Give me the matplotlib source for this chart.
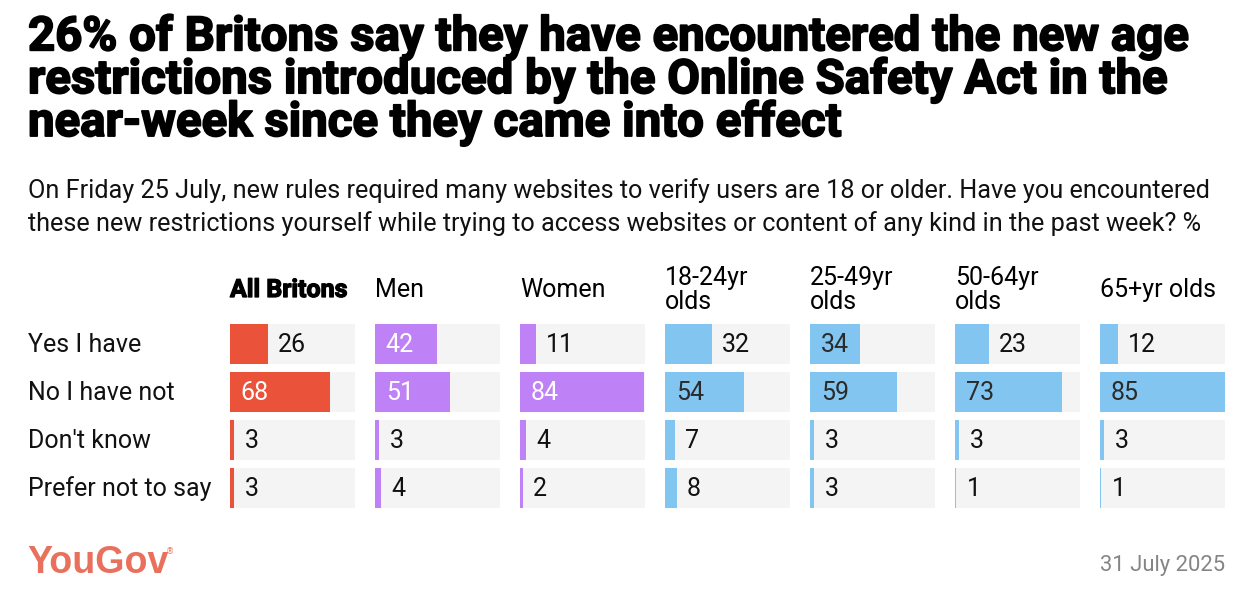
import matplotlib
matplotlib.use("Agg")
import matplotlib.pyplot as plt
import matplotlib.patheffects as pe

W, H = 1256, 608
DPI = 100

title = ("26% of Britons say they have encountered the new age\n"
         "restrictions introduced by the Online Safety Act in the\n"
         "near-week since they came into effect")
subtitle = ("On Friday 25 July, new rules required many websites to verify users are 18 or older. Have you encountered\n"
            "these new restrictions yourself while trying to access websites or content of any kind in the past week? %")

answers = ["Yes I have", "No I have not", "Don't know", "Prefer not to say"]
groups = ["All Britons", "Men", "Women", "18-24yr\nolds", "25-49yr\nolds", "50-64yr\nolds", "65+yr olds"]
all_britons = [26, 68, 3, 3]
men = [42, 51, 3, 4]
women = [11, 84, 4, 2]
age_18_24 = [32, 54, 7, 8]
age_25_49 = [34, 59, 3, 3]
age_50_64 = [23, 73, 3, 1]
age_65_plus = [12, 85, 3, 1]
series = [all_britons, men, women, age_18_24, age_25_49, age_50_64, age_65_plus]

RED = "#ea5239"
PURPLE = "#bf82f6"
BLUE = "#82c5f0"
colors = [RED, PURPLE, PURPLE, BLUE, BLUE, BLUE, BLUE]
inside_text = ["white", "white", "white", "#2b2b2b", "#2b2b2b", "#2b2b2b", "#2b2b2b"]
GRAY_BG = "#f4f4f4"

fig = plt.figure(figsize=(W / DPI, H / DPI), dpi=DPI)
fig.patch.set_facecolor("white")

def fx(px):
    return px / W

def fy(py):
    return 1 - py / H

# Title
fig.text(fx(28), fy(15), title, ha="left", va="top", fontsize=34.1, fontweight="bold",
         family="Roboto", linespacing=0.96, color="black",
         path_effects=[pe.withStroke(linewidth=1.3, foreground="black")])
# Subtitle
fig.text(fx(28), fy(178), subtitle, ha="left", va="top", fontsize=18.2,
         family="Roboto", linespacing=1.42, color="#111111")

panel_left0 = 230
pitch = 145
panel_w = 125
row_top0 = 324
row_h = 40
row_pitch = 48
n_rows = len(answers)
top = row_top0
bottom = row_top0 + (n_rows - 1) * row_pitch + row_h
XMAX = 85
FS = 18

for gi, (g, vals) in enumerate(zip(groups, series)):
    left = panel_left0 + gi * pitch
    ax = fig.add_axes([fx(left), fy(bottom), panel_w / W, (bottom - top) / H])
    ax.set_xlim(0, XMAX)
    total_h = (bottom - top)
    ax.set_ylim(total_h, 0)
    ax.axis("off")
    for ri, v in enumerate(vals):
        y0 = ri * row_pitch
        ax.barh(y0 + row_h / 2, XMAX, height=row_h, color=GRAY_BG, left=0, zorder=1)
        ax.barh(y0 + row_h / 2, v, height=row_h, color=colors[gi], left=0, zorder=2)
        if v >= 33:
            ax.text(7.3, y0 + row_h / 2 + 1, str(v), ha="left", va="center", fontsize=FS,
                    family="Roboto", color=inside_text[gi], zorder=3)
        else:
            ax.text(v + 6.8, y0 + row_h / 2 + 1, str(v), ha="left", va="center", fontsize=FS,
                    family="Roboto", color="#111111", zorder=3)
    kw = {}
    if gi == 0:
        kw = dict(fontweight="bold", path_effects=[pe.withStroke(linewidth=0.9, foreground="black")])
    fig.text(fx(left), fy(290), g, ha="left", va="center", fontsize=FS,
             family="Roboto", linespacing=0.95, color="black", **kw)

for ri, a in enumerate(answers):
    yc = row_top0 + ri * row_pitch + row_h / 2 + 1
    fig.text(fx(28), fy(yc), a, ha="left", va="center", fontsize=FS,
             family="Roboto", color="#111111")

# Footer
fig.text(fx(27), fy(563), "YouGov", ha="left", va="center", fontsize=27, fontweight="bold",
         family="Liberation Sans", color="#e8705c")
fig.text(fx(166), fy(552), "®", ha="left", va="center", fontsize=6, family="DejaVu Sans",
         color="#e8705c")
fig.text(fx(1225), fy(565), "31 July 2025", ha="right", va="center", fontsize=15.8,
         family="Roboto", color="#858585")

fig.savefig("out.png", dpi=DPI, facecolor="white")
